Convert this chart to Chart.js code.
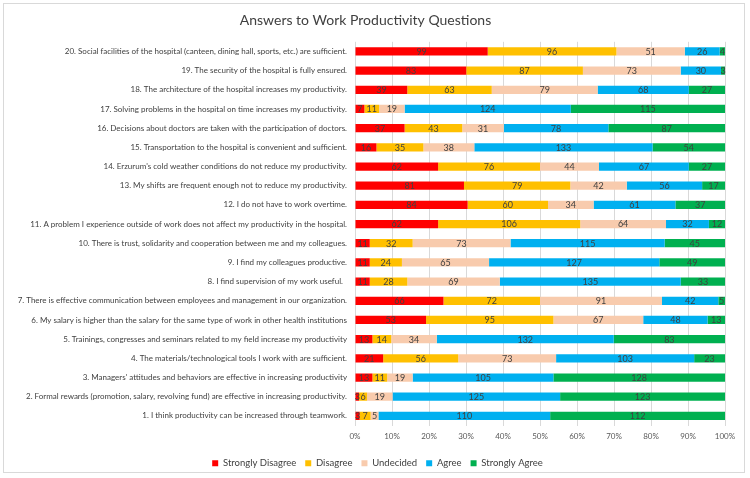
<!DOCTYPE html>
<html><head><meta charset="utf-8">
<script src="https://cdn.jsdelivr.net/npm/chart.js@4/dist/chart.umd.min.js"></script>
<style>
html,body{margin:0;padding:0;background:#fff;}
#wrap{position:absolute;left:3px;top:3px;width:742px;height:470px;border:1px solid #D9D9D9;box-sizing:border-box;}
#c{position:absolute;left:0;top:0;}
</style></head><body>
<div id="wrap"></div>
<canvas id="c" width="750" height="478"></canvas>
<script>
const categories = [
 "20. Social facilities of the hospital (canteen, dining hall, sports, etc.) are sufficient.",
 "19. The security of the hospital is fully ensured.",
 "18. The architecture of the hospital increases my productivity.",
 "17. Solving problems in the hospital on time increases my productivity.",
 "16. Decisions about doctors are taken with the participation of doctors.",
 "15. Transportation to the hospital is convenient and sufficient.",
 "14. Erzurum's cold weather conditions do not reduce my productivity.",
 "13. My shifts are frequent enough not to reduce my productivity.",
 "12. I do not have to work overtime.",
 "11. A problem I experience outside of work does not affect my productivity in the hospital.",
 "10. There is trust, solidarity and cooperation between me and my colleagues.",
 "9. I find my colleagues productive.",
 "8. I find supervision of my work useful.  ",
 "7. There is effective communication between employees and management in our organization.",
 "6. My salary is higher than the salary for the same type of work in other health institutions",
 "5. Trainings, congresses and seminars related to my field increase my productivity",
 "4. The materials/technological tools I work with are sufficient.",
 "3. Managers' attitudes and behaviors are effective in increasing productivity",
 "2. Formal rewards (promotion, salary, revolving fund) are effective in increasing productivity.",
 "1. I think productivity can be increased through teamwork."
];
const seriesNames = ["Strongly Disagree","Disagree","Undecided","Agree","Strongly Agree"];
const stronglyDisagree = [99,83,39,7,37,16,62,81,84,62,11,11,11,66,53,13,21,13,3,3];
const disagree         = [96,87,63,11,43,35,76,79,60,106,32,24,28,72,95,14,56,11,6,7];
const undecided        = [51,73,79,19,31,38,44,42,34,64,73,65,69,91,67,34,73,19,19,5];
const agree            = [26,30,68,124,78,133,67,56,61,32,115,127,135,42,48,132,103,105,125,110];
const stronglyAgree    = [4,3,27,115,87,54,27,17,37,12,45,49,33,5,13,83,23,128,123,112];
const xTicks = ["0%","10%","20%","30%","40%","50%","60%","70%","80%","90%","100%"];

const counts = [stronglyDisagree, disagree, undecided, agree, stronglyAgree];
const colors = ["#FF0000","#FFC000","#F8CBAD","#00B0F0","#00B050"];
const totals = categories.map((_, i) => counts.reduce((s, a) => s + a[i], 0));

const FONT = "Lato, 'Open Sans', sans-serif";

const datasets = counts.map((arr, k) => ({
  label: seriesNames[k],
  data: arr.map((v, i) => v / totals[i] * 100),
  raw: arr,
  backgroundColor: colors[k],
  borderWidth: 0,
  barPercentage: 0.43,
  categoryPercentage: 1.0
}));

const labelPlugin = {
  id: 'segLabels',
  afterDatasetsDraw(chart) {
    const ctx = chart.ctx;
    ctx.save();
    ctx.font = "9px " + FONT;
    ctx.fillStyle = "#404040";
    ctx.textAlign = "center";
    ctx.textBaseline = "middle";
    chart.data.datasets.forEach((ds, di) => {
      const meta = chart.getDatasetMeta(di);
      meta.data.forEach((bar, i) => {
        const v = ds.raw[i];
        const cx = (bar.x + bar.base) / 2;
        ctx.fillText(String(v), cx, bar.y + 0.5);
      });
    });
    ctx.restore();
  }
};

const legendShift = {
  id: 'legendShift',
  afterLayout(chart) {
    if (chart.legend) { chart.legend.left += 12; chart.legend.right += 12; }
  }
};

new Chart(document.getElementById('c'), {
  type: 'bar',
  data: { labels: categories, datasets },
  options: {
    responsive: false,
    animation: false,
    indexAxis: 'y',
    layout: { padding: { left: 6, right: 25, top: 6, bottom: 0 } },
    plugins: {
      title: {
        display: true,
        text: "Answers to Work Productivity Questions",
        color: "#404040",
        font: { family: FONT, size: 14, weight: 'normal' },
        padding: { top: 6, bottom: 13 }
      },
      legend: {
        position: 'bottom',
        labels: {
          color: "#404040",
          font: { family: FONT, size: 9.5 },
          boxWidth: 6, boxHeight: 6, padding: 9
        }
      },
      tooltip: { enabled: false }
    },
    scales: {
      x: {
        stacked: true,
        min: 0, max: 100,
        ticks: {
          stepSize: 10,
          color: "#595959",
          font: { family: FONT, size: 8 },
          padding: 6,
          callback: (v, i) => xTicks[i]
        },
        grid: { color: "#D9D9D9", drawTicks: false },
        border: { display: false },
        afterFit(scale) { scale.height = 24; }
      },
      y: {
        stacked: true,
        ticks: {
          color: "#404040",
          font: { family: FONT, size: 8 },
          padding: 8,
          autoSkip: false
        },
        grid: { display: false, drawTicks: false },
        border: { display: false },
        afterFit(scale) { scale.width = 349; }
      }
    }
  },
  plugins: [labelPlugin, legendShift]
});
</script>
</body></html>
